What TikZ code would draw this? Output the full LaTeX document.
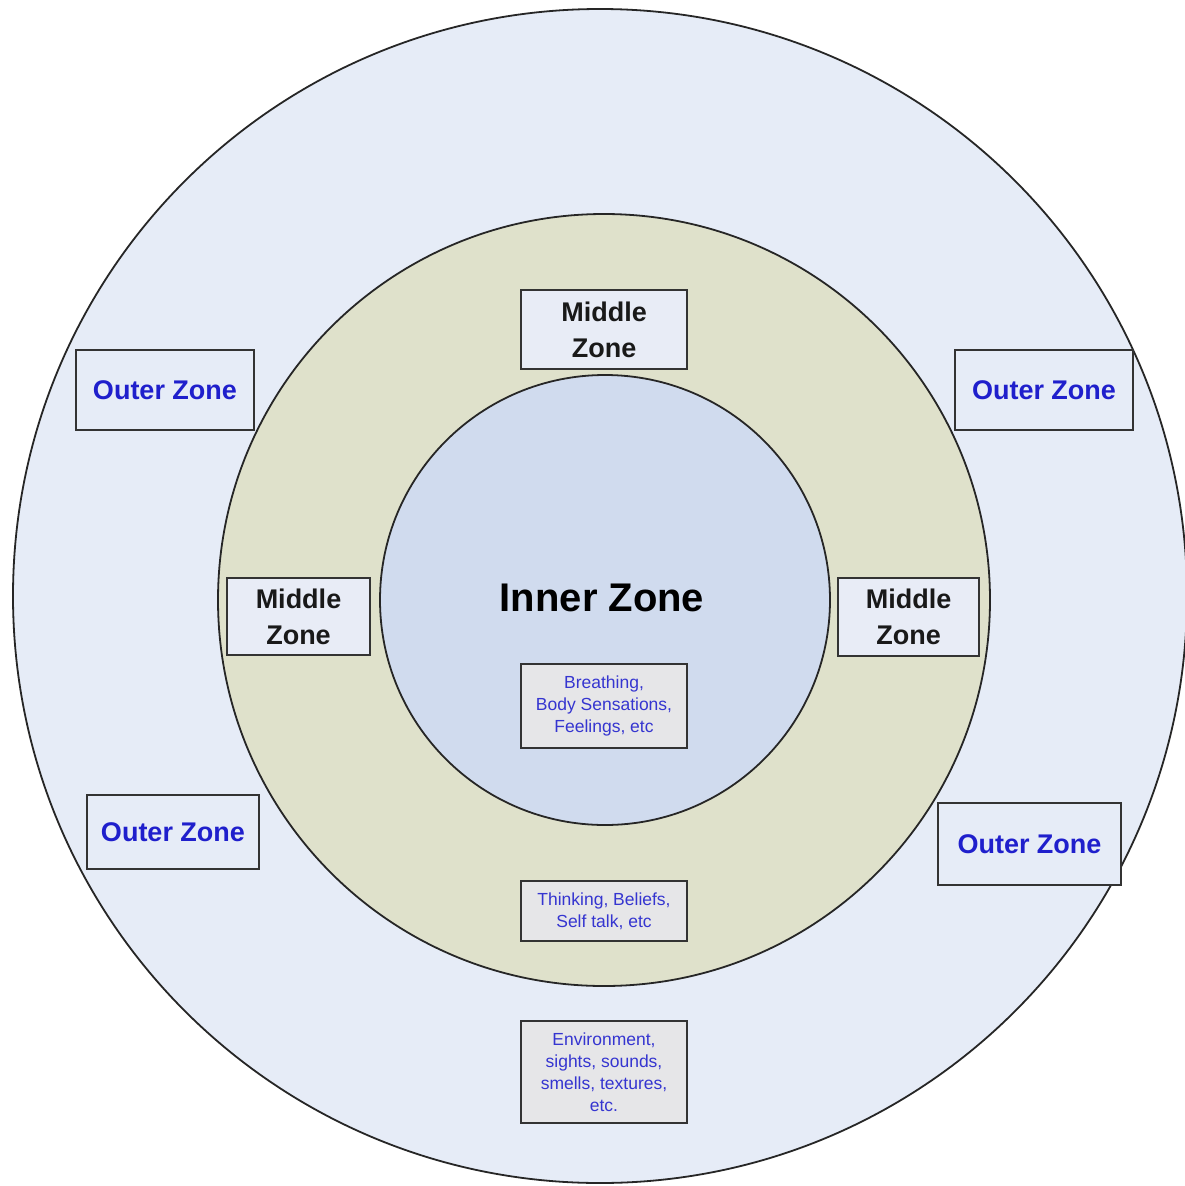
\documentclass[tikz,border=0pt]{standalone}
\usepackage{fontspec}
\setmainfont{Liberation Sans}
\begin{document}
\begin{tikzpicture}[x=1pt,y=-1pt,
  ring/.style={draw=black!85,line width=1.8pt},
  zonebox/.style={draw=black!80,line width=2.6pt,align=center,inner sep=0pt},
  outerlabel/.style={zonebox,fill=outerfill,text=zoneblue,font=\fontsize{27}{32}\selectfont\bfseries},
  middlelabel/.style={zonebox,fill=midbox,text=black!90,font=\fontsize{27}{36}\selectfont\bfseries},
  notebox/.style={zonebox,fill=notefill,text=noteblue,font=\fontsize{17.5}{22}\selectfont}]
\definecolor{outerfill}{HTML}{E6ECF7}
\definecolor{middlefill}{HTML}{DFE1CB}
\definecolor{innerfill}{HTML}{D0DBEE}
\definecolor{midbox}{HTML}{E8ECF6}
\definecolor{notefill}{HTML}{E6E6E8}
\definecolor{zoneblue}{HTML}{1F1FCC}
\definecolor{noteblue}{HTML}{3535D0}
\useasboundingbox (0,0) rectangle (1185,1186);
\fill[white] (0,0) rectangle (1185,1186);
% three nested zones
\begin{scope}
\clip (0,0) rectangle (1185,1186);
\draw[ring,fill=outerfill] (600,596) circle[radius=587];
\end{scope}
\draw[ring,fill=middlefill] (604,600) circle[radius=386];
\draw[ring,fill=innerfill] (605,600) circle[radius=225];
% centre title
\node[font=\fontsize{40}{46}\selectfont\bfseries] (inner) at (602,598) {Inner Zone};
% middle zone labels
\node[middlelabel,minimum width=166,minimum height=79] (mtop) at (604,329.5) {Middle\\Zone};
\node[middlelabel,minimum width=143,minimum height=77] (mleft) at (298.5,616.5) {Middle\\Zone};
\node[middlelabel,minimum width=141,minimum height=78] (mright) at (908.5,617) {Middle\\Zone};
% outer zone labels
\node[outerlabel,minimum width=178,minimum height=80] (otl) at (165,390) {Outer Zone};
\node[outerlabel,minimum width=178,minimum height=80] (otr) at (1044,390) {Outer Zone};
\node[outerlabel,minimum width=172,minimum height=74] (obl) at (173,832) {Outer Zone};
\node[outerlabel,minimum width=183,minimum height=82] (obr) at (1029.5,844) {Outer Zone};
% notes for each zone
\node[notebox,minimum width=166,minimum height=84] (ninner) at (604,706) {Breathing,\\Body Sensations,\\Feelings, etc};
\node[notebox,minimum width=166,minimum height=60] (nmiddle) at (604,911) {Thinking, Beliefs,\\Self talk, etc};
\node[notebox,minimum width=166,minimum height=102] (nouter) at (604,1072) {Environment,\\sights, sounds,\\smells, textures,\\etc.};
\end{tikzpicture}
\end{document}
